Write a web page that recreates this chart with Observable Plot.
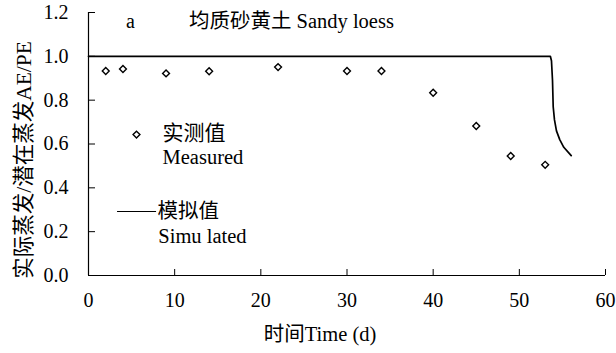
<!DOCTYPE html>
<html>
<head>
<meta charset="utf-8">
<script src="https://cdn.jsdelivr.net/npm/d3@7"></script>
<script src="https://cdn.jsdelivr.net/npm/@observablehq/plot@0.6"></script>
<style>
  html, body { margin: 0; padding: 0; background: #fff; }
  #chart svg { display: block; }
</style>
</head>
<body>
<div id="chart"></div>
<script>
// Measured AE/PE
const measuredDay = [2, 4, 9, 14, 22, 30, 34, 40, 45, 49, 53];
const measuredRatio = [0.933, 0.942, 0.922, 0.932, 0.951, 0.933, 0.933, 0.834, 0.682, 0.545, 0.505];
// Simulated AE/PE
const simDay = [0, 53.6, 53.73, 53.85, 53.93, 54.08, 54.31, 54.69, 55.16, 56.02];
const simRatio = [1, 1, 0.98, 0.89, 0.77, 0.71, 0.66, 0.62, 0.585, 0.547];
// Ticks
const xTicks = [0, 10, 20, 30, 40, 50, 60];
const yTicks = [0, 0.2, 0.4, 0.6, 0.8, 1.0, 1.2];
// Texts
const panelLetter = "a";
const panelTitle = "均质砂黄土 Sandy loess";
const yLabel = "实际蒸发/潜在蒸发AE/PE";
const xLabel = "时间Time (d)";
const legendMeasured = ["实测值", "Measured"];
const legendSimulated = ["模拟值", "Simu lated"];

const measured = measuredDay.map((d, i) => ({day: d, ratio: measuredRatio[i]}));
const simulated = simDay.map((d, i) => ({day: d, ratio: simRatio[i]}));

const serif = "'Liberation Serif', 'Times New Roman', 'Noto Sans CJK SC', serif";

const chart = Plot.plot({
  width: 616,
  height: 353,
  marginLeft: 88,
  marginRight: 11,
  marginTop: 12,
  marginBottom: 78,
  style: {fontFamily: serif, fontSize: "20px", color: "#000", background: "#fff", overflow: "visible"},
  x: {domain: [0, 60]},
  y: {domain: [0, 1.2]},
  marks: [
    // axis labels
    Plot.axisY(yTicks, {tickSize: 0, tickPadding: 20, tickFormat: d3.format(".1f"), label: null, fontSize: 20, fontFamily: serif}),
    Plot.axisX(xTicks, {tickSize: 0, tickPadding: 17, tickFormat: d3.format("d"), label: null, fontSize: 20, fontFamily: serif}),
    // inward ticks
    Plot.tickY(yTicks, {y: d => d, insetRight: 510, stroke: "#000", strokeWidth: 1}),
    Plot.tickX(xTicks, {x: d => d, insetTop: 257, stroke: "#000", strokeWidth: 1}),
    // axis lines
    Plot.ruleX([0], {stroke: "#000", strokeWidth: 1.2}),
    Plot.ruleY([0], {stroke: "#000", strokeWidth: 1.2}),
    // simulated line
    Plot.line(simulated, {x: "day", y: "ratio", stroke: "#000", strokeWidth: 1.7}),
    // measured points
    Plot.dot(measured, {x: "day", y: "ratio", symbol: "diamond2", r: 3.1, stroke: "#000", fill: "#fff", strokeWidth: 1.4}),
    // panel title
    Plot.text([panelLetter], {x: 4.87, y: 1.159, text: d => d, fontSize: 20, fontFamily: serif, textAnchor: "middle"}),
    Plot.text([panelTitle], {x: 11.65, y: 1.159, text: d => d, fontSize: 20.5, fontFamily: serif, textAnchor: "start"}),
    // legend: measured
    Plot.dot([0], {x: 5.57, y: 0.643, symbol: "diamond2", r: 3.1, stroke: "#000", fill: "#fff", strokeWidth: 1.4}),
    Plot.text([legendMeasured[0]], {x: 8.59, y: 0.648, text: d => d, fontSize: 21, fontFamily: serif, textAnchor: "start"}),
    Plot.text([legendMeasured[1]], {x: 8.59, y: 0.538, text: d => d, fontSize: 20.5, fontFamily: serif, textAnchor: "start"}),
    // legend: simulated
    Plot.ruleY([0.292], {x1: 3.37, x2: 7.9, stroke: "#000", strokeWidth: 1}),
    Plot.text([legendSimulated[0]], {x: 8.0, y: 0.292, text: d => d, fontSize: 20.5, fontFamily: serif, textAnchor: "start"}),
    Plot.text([legendSimulated[1]], {x: 8.1, y: 0.178, text: d => d, fontSize: 20.5, fontFamily: serif, textAnchor: "start"}),
    // axis titles
    Plot.text([yLabel], {frameAnchor: "left", dx: -64, dy: 16, rotate: -90, text: d => d, fontSize: 21.5, fontFamily: serif, textAnchor: "middle"}),
    Plot.text([xLabel], {frameAnchor: "bottom", dx: -27, dy: 65, text: d => d, fontSize: 20.5, fontFamily: serif, textAnchor: "middle"})
  ]
});
document.getElementById("chart").appendChild(chart);
</script>
</body>
</html>
